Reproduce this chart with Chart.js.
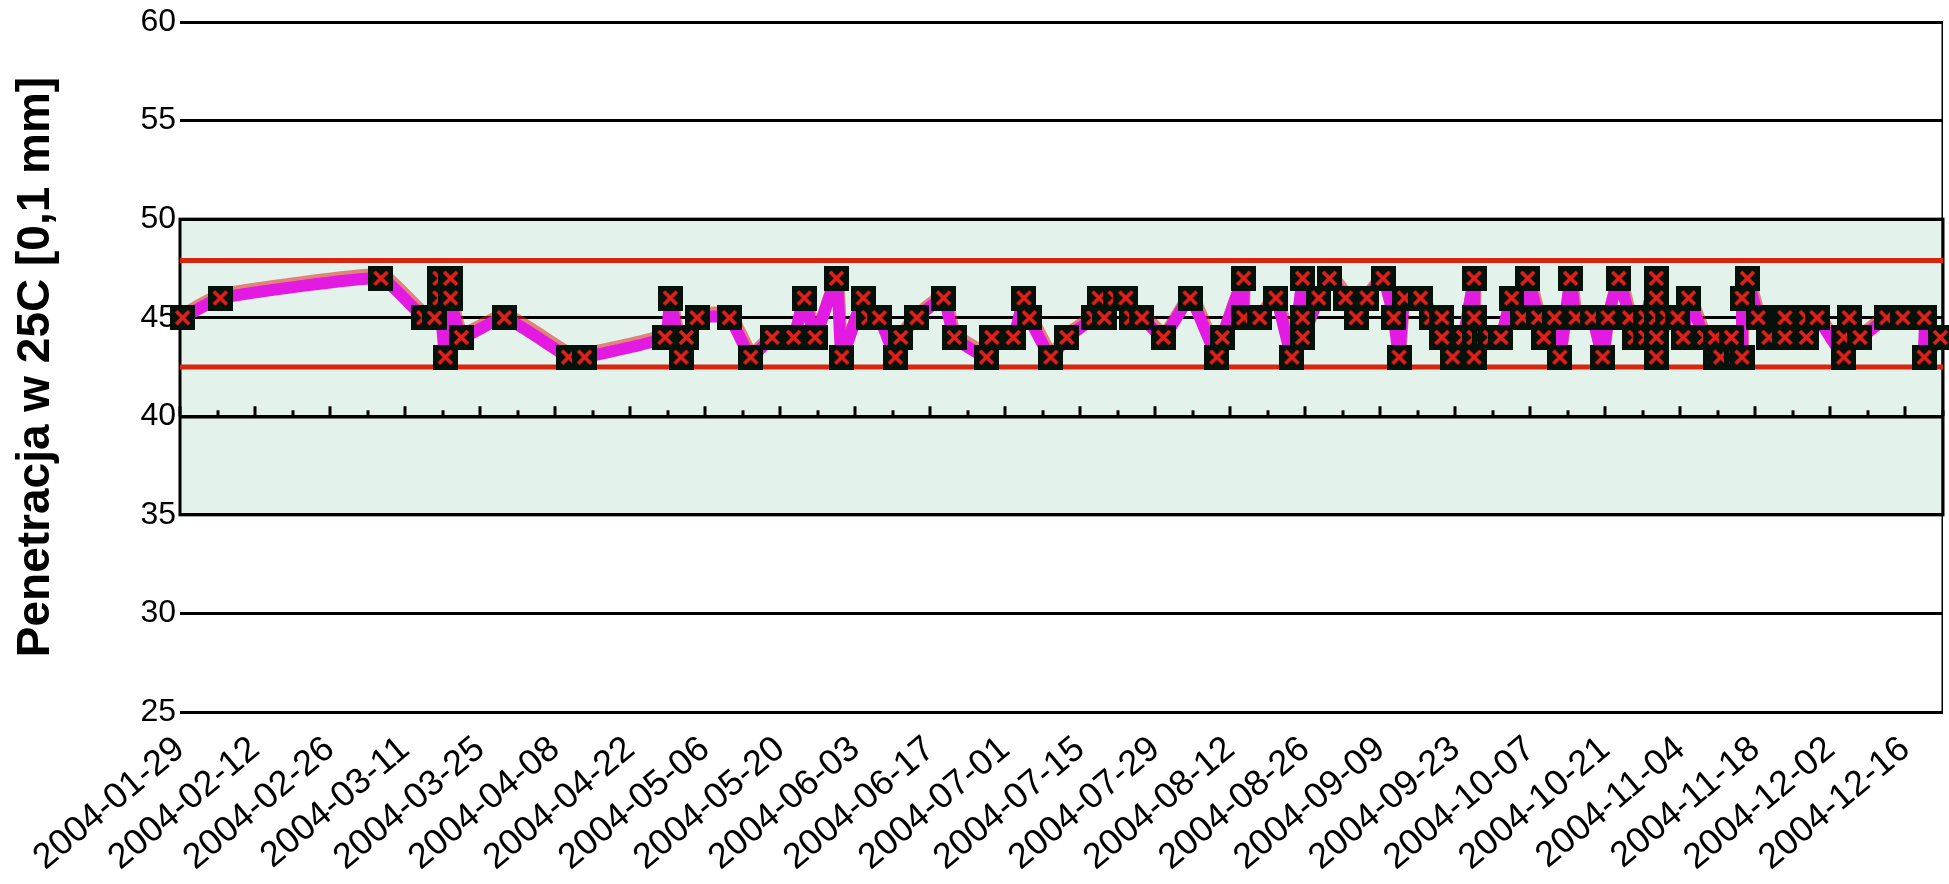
<!DOCTYPE html>
<html>
<head>
<meta charset="utf-8">
<script src="https://cdn.jsdelivr.net/npm/chart.js@4/dist/chart.umd.min.js"></script>
<style>
  html, body { margin: 0; padding: 0; background: #fff; }
</style>
</head>
<body>
<canvas id="chart" width="1949" height="884"></canvas>
<script>
// Data: sample dates and penetration readings (0,1 mm)
const sampleDates = [
    '2004-01-29', '2004-02-05', '2004-03-06', '2004-03-14', '2004-03-16', '2004-03-17', '2004-03-17', '2004-03-18', '2004-03-19', '2004-03-19',
    '2004-03-21', '2004-03-29', '2004-04-10', '2004-04-13', '2004-04-28', '2004-04-29', '2004-05-01', '2004-05-02', '2004-05-04', '2004-05-10',
    '2004-05-14', '2004-05-18', '2004-05-22', '2004-05-24', '2004-05-26', '2004-05-30', '2004-05-31', '2004-06-04', '2004-06-05', '2004-06-07',
    '2004-06-10', '2004-06-11', '2004-06-14', '2004-06-19', '2004-06-21', '2004-06-27', '2004-06-28', '2004-07-02', '2004-07-04', '2004-07-05',
    '2004-07-09', '2004-07-12', '2004-07-17', '2004-07-18', '2004-07-19', '2004-07-21', '2004-07-23', '2004-07-24', '2004-07-26', '2004-07-30',
    '2004-08-04', '2004-08-09', '2004-08-10', '2004-08-14', '2004-08-14', '2004-08-17', '2004-08-20', '2004-08-23', '2004-08-25', '2004-08-25',
    '2004-08-25', '2004-08-28', '2004-08-30', '2004-09-02', '2004-09-04', '2004-09-06', '2004-09-09', '2004-09-11', '2004-09-12', '2004-09-13',
    '2004-09-16', '2004-09-18', '2004-09-20', '2004-09-20', '2004-09-22', '2004-09-24', '2004-09-26', '2004-09-26', '2004-09-26', '2004-09-26',
    '2004-09-28', '2004-09-29', '2004-10-01', '2004-10-03', '2004-10-05', '2004-10-06', '2004-10-08', '2004-10-09', '2004-10-11', '2004-10-12',
    '2004-10-14', '2004-10-15', '2004-10-18', '2004-10-20', '2004-10-21', '2004-10-23', '2004-10-25', '2004-10-26', '2004-10-28', '2004-10-28',
    '2004-10-30', '2004-10-30', '2004-10-30', '2004-10-30', '2004-10-30', '2004-11-01', '2004-11-03', '2004-11-04', '2004-11-05', '2004-11-08',
    '2004-11-10', '2004-11-10', '2004-11-11', '2004-11-13', '2004-11-14', '2004-11-15', '2004-11-15', '2004-11-16', '2004-11-18', '2004-11-20',
    '2004-11-22', '2004-11-23', '2004-11-23', '2004-11-27', '2004-11-27', '2004-11-29', '2004-12-04', '2004-12-04', '2004-12-05', '2004-12-07',
    '2004-12-12', '2004-12-15', '2004-12-19', '2004-12-19', '2004-12-22'
];
const penetration = [
    45, 46, 47, 45, 45, 47, 46, 43, 47, 46,
    44, 45, 43, 43, 44, 46, 43, 44, 45, 45,
    43, 44, 44, 46, 44, 47, 43, 46, 45, 45,
    43, 44, 45, 46, 44, 43, 44, 44, 46, 45,
    43, 44, 45, 46, 45, 46, 46, 45, 45, 44,
    46, 43, 44, 47, 45, 45, 46, 43, 47, 45,
    44, 46, 47, 46, 45, 46, 47, 45, 43, 46,
    46, 45, 45, 44, 43, 44, 47, 45, 44, 43,
    44, 44, 44, 46, 45, 47, 45, 44, 45, 43,
    47, 45, 45, 43, 45, 47, 45, 44, 44, 45,
    47, 46, 45, 44, 43, 45, 45, 44, 46, 44,
    44, 43, 43, 44, 43, 43, 46, 47, 45, 44,
    45, 45, 44, 44, 45, 45, 43, 44, 45, 44,
    45, 45, 45, 43, 44
];
const xTickLabels = [
    '2004-01-29', '2004-02-12', '2004-02-26', '2004-03-11', '2004-03-25', '2004-04-08',
    '2004-04-22', '2004-05-06', '2004-05-20', '2004-06-03', '2004-06-17', '2004-07-01',
    '2004-07-15', '2004-07-29', '2004-08-12', '2004-08-26', '2004-09-09', '2004-09-23',
    '2004-10-07', '2004-10-21', '2004-11-04', '2004-11-18', '2004-12-02', '2004-12-16'
];
const axisEndDate = '2004-12-23';
const upperLimit = 47.9;
const lowerLimit = 42.5;
const bandRange = [35, 50];   // shaded zone
const axisCross = 40;         // date axis crosses here

const DAY = 86400000;
const start = Date.parse(xTickLabels[0]);
const dayOf = d => (Date.parse(d) - start) / DAY;
const lastDay = dayOf(axisEndDate);

// Excel date axis: each point sits in the middle of its day slot
const points = sampleDates.map((d, i) => ({ x: dayOf(d) + 0.5, y: penetration[i] }));

// black square marker with red cross
function makeMarker() {
    const s = 25;
    const c = document.createElement('canvas');
    c.width = s;
    c.height = s;
    const g = c.getContext('2d');
    g.fillStyle = '#061109';
    g.fillRect(0, 0, s, s);
    g.strokeStyle = '#e3201b';
    g.lineWidth = 3.8;
    g.beginPath();
    g.moveTo(6, 6); g.lineTo(s - 6, s - 6);
    g.moveTo(s - 6, 6); g.lineTo(6, s - 6);
    g.stroke();
    return c;
}

const zonePlugin = {
    id: 'zone',
    beforeDraw(chart) {
        const { ctx, chartArea: a, scales: { y } } = chart;
        const top = y.getPixelForValue(bandRange[1]);
        const bottom = y.getPixelForValue(bandRange[0]);
        ctx.save();
        ctx.fillStyle = '#e3f2ea';
        ctx.fillRect(a.left, top, a.right - a.left, bottom - top);
        ctx.strokeStyle = '#000';
        ctx.lineWidth = 3;
        ctx.strokeRect(a.left, top, a.right - a.left, bottom - top);
        // thin frame line on the right
        ctx.lineWidth = 1.5;
        ctx.beginPath();
        ctx.moveTo(a.right - 0.75, a.top);
        ctx.lineTo(a.right - 0.75, a.bottom);
        ctx.stroke();
        ctx.restore();
    },
    beforeDatasetsDraw(chart) {
        // tick marks on the crossing line, long every 14 days
        const { ctx, scales: { x, y } } = chart;
        const y0 = y.getPixelForValue(axisCross);
        ctx.save();
        ctx.strokeStyle = '#000';
        ctx.lineWidth = 3;
        for (let d = 0; d <= lastDay; d += 7) {
            const px = Math.round(x.getPixelForValue(d));
            const len = d % 14 === 0 ? 10 : 6;
            ctx.beginPath();
            ctx.moveTo(px, y0);
            ctx.lineTo(px, y0 - len);
            ctx.stroke();
        }
        ctx.restore();
    },
    beforeDatasetDraw(chart, args) {
        if (!chart.data.datasets[args.index].shadow) return;
        const ctx = chart.ctx;
        ctx.save();
        ctx.shadowColor = 'rgba(226, 40, 24, 0.55)';
        ctx.shadowOffsetX = 1;
        ctx.shadowOffsetY = -4;
    },
    afterDatasetDraw(chart, args) {
        if (chart.data.datasets[args.index].shadow) chart.ctx.restore();
    }
};

Chart.defaults.font.family = '"Liberation Sans", Arial, sans-serif';
Chart.defaults.color = '#000';

new Chart(document.getElementById('chart'), {
    type: 'line',
    data: {
        datasets: [
            {
                data: points,
                showLine: false,
                pointStyle: makeMarker(),
                pointRadius: 12,
                pointHoverRadius: 12,
                clip: false,
                order: 0
            },
            {
                data: points,
                borderColor: '#e21ae2',
                borderWidth: 12,
                pointRadius: 0,
                tension: 0.12,
                shadow: true,
                order: 1
            },
            {
                data: [{ x: 0, y: upperLimit }, { x: lastDay, y: upperLimit }],
                borderColor: '#d8250f',
                borderWidth: 5,
                pointRadius: 0,
                order: 2
            },
            {
                data: [{ x: 0, y: lowerLimit }, { x: lastDay, y: lowerLimit }],
                borderColor: '#d8250f',
                borderWidth: 5,
                pointRadius: 0,
                order: 2
            }
        ]
    },
    options: {
        responsive: false,
        animation: false,
        events: [],
        layout: { autoPadding: false, padding: { top: 22, right: 6, left: 0, bottom: 0 } },
        plugins: { legend: { display: false }, tooltip: { enabled: false } },
        scales: {
            x: {
                type: 'linear',
                min: 0,
                max: lastDay,
                grid: { display: false },
                border: { display: false },
                afterBuildTicks: s => { s.ticks = xTickLabels.map(d => ({ value: dayOf(d) })); },
                afterFit: s => { s.height = 172; s.paddingLeft = 0; s.paddingRight = 0; },
                ticks: {
                    autoSkip: false,
                    minRotation: 40,
                    maxRotation: 40,
                    padding: 8,
                    font: { size: 36 },
                    callback: (v, i) => xTickLabels[i]
                }
            },
            y: {
                min: 25,
                max: 60,
                afterFit: s => { s.width = 180; s.paddingTop = 0; s.paddingBottom = 0; },
                border: { display: false },
                grid: {
                    color: '#000',
                    lineWidth: c => c.tick && c.tick.value === axisCross ? 3.5 : 3,
                    drawTicks: false
                },
                ticks: { stepSize: 5, padding: 4, font: { size: 32 } },
                title: {
                    display: true,
                    text: 'Penetracja w 25C [0,1 mm]',
                    font: { size: 46, weight: 'bold' },
                    padding: { top: 9, bottom: 0 }
                }
            }
        }
    },
    plugins: [zonePlugin]
});
</script>
</body>
</html>
